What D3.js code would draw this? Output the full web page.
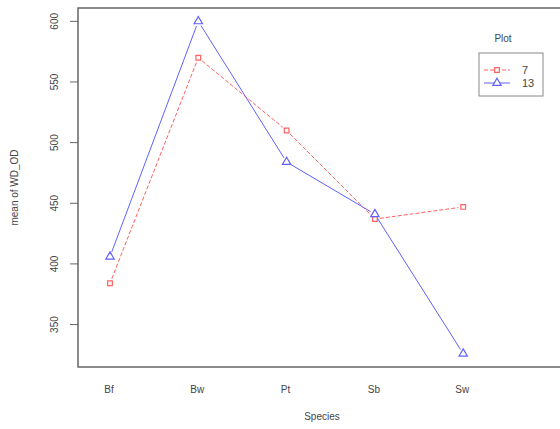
<!DOCTYPE html>
<html>
<head>
<meta charset="utf-8">
<script src="https://cdn.jsdelivr.net/npm/d3@7"></script>
<style>
  body { margin: 0; background: #fff; }
  text { font-family: "Liberation Sans", Arial, sans-serif; fill: #444; }
</style>
</head>
<body>
<svg id="chart" width="560" height="429"></svg>
<script>
const species = ["Bf", "Bw", "Pt", "Sb", "Sw"];
const plot7 = [384, 570, 510, 437, 447];
const plot13 = [406, 600, 484, 441, 326];
const yTicks = [350, 400, 450, 500, 550, 600];
const seriesNames = ["7", "13"];

const svg = d3.select("#chart");
const box = { left: 78, top: 8, right: 600, bottom: 367 };

// x positions: level index 1..n, R-like spacing
const x = d3.scaleLinear().domain([1, 2]).range([110, 198.3]);
const y = d3.scaleLinear().domain([611, 315]).range([box.top, box.bottom]);

const red = "#ff6060";
const blue = "#6060ff";

// frame
svg.append("rect")
    .attr("x", box.left).attr("y", box.top)
    .attr("width", box.right - box.left).attr("height", box.bottom - box.top)
    .attr("fill", "none").attr("stroke", "#666").attr("stroke-width", 1.5);

// y axis
const yAxis = svg.append("g");
yTicks.forEach(t => {
    yAxis.append("line")
        .attr("x1", 70).attr("x2", box.left)
        .attr("y1", y(t)).attr("y2", y(t))
        .attr("stroke", "#666");
    yAxis.append("text")
        .attr("transform", `translate(58,${y(t)}) rotate(-90)`)
        .attr("text-anchor", "middle")
        .attr("font-size", 10)
        .text(t);
});
svg.append("text")
    .attr("transform", `translate(18,${(box.top + box.bottom) / 2}) rotate(-90)`)
    .attr("text-anchor", "middle")
    .attr("font-size", 10)
    .text("mean of WD_OD");

// x labels
species.forEach((s, i) => {
    svg.append("text")
        .attr("x", x(i + 1) - 1).attr("y", 393)
        .attr("text-anchor", "middle")
        .attr("font-size", 10)
        .text(s);
});
svg.append("text")
    .attr("x", 322).attr("y", 420)
    .attr("text-anchor", "middle")
    .attr("font-size", 10)
    .text("Species");

// type "b" lines: segments with gaps around points
function drawSeries(vals, color, dash, shape) {
    const pts = vals.map((v, i) => [x(i + 1), y(v)]);
    const gap = 5;
    const g = svg.append("g");
    for (let i = 0; i < pts.length - 1; i++) {
        const [x1, y1] = pts[i], [x2, y2] = pts[i + 1];
        const len = Math.hypot(x2 - x1, y2 - y1);
        const ux = (x2 - x1) / len, uy = (y2 - y1) / len;
        g.append("line")
            .attr("x1", x1 + ux * gap).attr("y1", y1 + uy * gap)
            .attr("x2", x2 - ux * gap).attr("y2", y2 - uy * gap)
            .attr("stroke", color).attr("stroke-width", 1)
            .attr("stroke-dasharray", dash);
    }
    g.selectAll("path.pt")
        .data(pts)
        .join("path")
        .attr("class", "pt")
        .attr("transform", d => `translate(${d[0]},${d[1]})`)
        .attr("d", d3.symbol().type(shape).size(shape === d3.symbolSquare ? 22 : 30))
        .attr("fill", "none").attr("stroke", color).attr("stroke-width", 1.2);
}
drawSeries(plot7, red, "4,2", d3.symbolSquare);
drawSeries(plot13, blue, null, d3.symbolTriangle);

// legend
svg.append("text")
    .attr("x", 503).attr("y", 42)
    .attr("text-anchor", "middle")
    .attr("font-size", 10)
    .text("Plot");
svg.append("rect")
    .attr("x", 479).attr("y", 53).attr("width", 64).attr("height", 43)
    .attr("fill", "none").attr("stroke", "#888").attr("stroke-width", 1);
const legend = [
    { name: seriesNames[0], color: red, dash: "4,2", shape: d3.symbolSquare, yy: 70 },
    { name: seriesNames[1], color: blue, dash: null, shape: d3.symbolTriangle, yy: 83 }
];
legend.forEach(l => {
    svg.append("line")
        .attr("x1", 484).attr("x2", 510)
        .attr("y1", l.yy).attr("y2", l.yy)
        .attr("stroke", l.color).attr("stroke-dasharray", l.dash);
    svg.append("path")
        .attr("transform", `translate(497,${l.yy})`)
        .attr("d", d3.symbol().type(l.shape).size(l.shape === d3.symbolSquare ? 22 : 30))
        .attr("fill", "#fff").attr("stroke", l.color).attr("stroke-width", 1.2);
    svg.append("text")
        .attr("x", 522).attr("y", l.yy + 4)
        .attr("font-size", 11)
        .text(l.name);
});
</script>
</body>
</html>
